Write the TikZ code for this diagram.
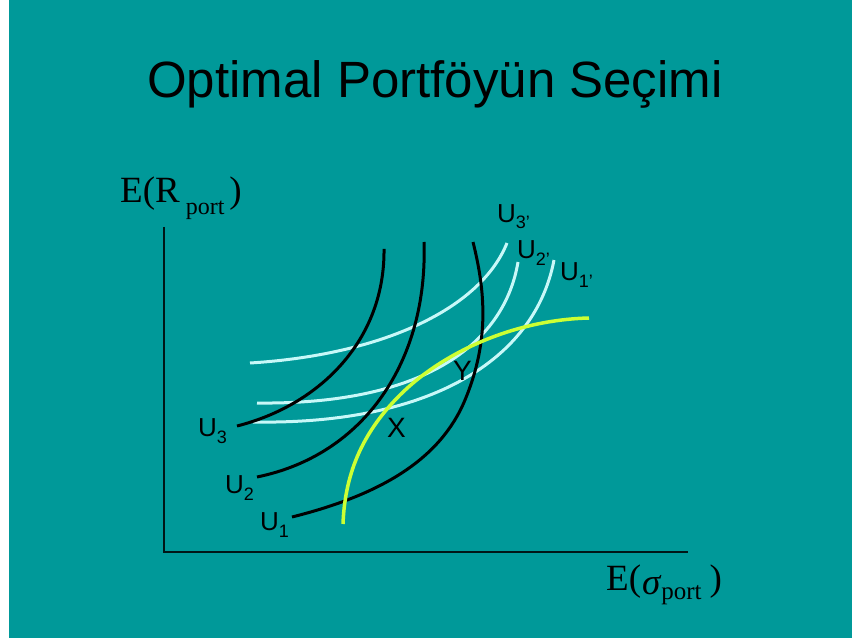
\documentclass[tikz,border=0pt]{standalone}
\usepackage{fontspec}
\setmainfont{Liberation Sans}
\newfontfamily\serifface{Liberation Serif}
\usetikzlibrary{positioning}
\definecolor{slidebg}{HTML}{009999}
\definecolor{paleline}{HTML}{C8F8F8}
\definecolor{frontcol}{HTML}{CCFF33}
\newcommand{\lowsub}[2][6pt]{\raisebox{-#1}{\fontsize{18}{18}\selectfont #2}}

\begin{document}
\begin{tikzpicture}[
    x=1pt, y=-1pt,
    axisline/.style={draw=black!85!slidebg, line width=2pt},
    ucurve/.style={draw=black, line width=3pt},
    vcurve/.style={draw=paleline, line width=3pt},
    front/.style={draw=frontcol, line width=3.5pt},
    ulab/.style={anchor=base west, inner sep=0pt, font=\fontsize{26}{26}\selectfont},
    ptlab/.style={anchor=base west, inner sep=0pt, font=\fontsize{28}{28}\selectfont},
    axlab/.style={anchor=base west, inner sep=0pt, font=\serifface\fontsize{37}{37}\selectfont}
]
    \useasboundingbox (0,0) rectangle (852,639);
    \fill[slidebg] (9,0) rectangle (852,638);

    \node[anchor=base, inner sep=0pt, font=\fontsize{51}{51}\selectfont] (title) at (435,98) {Optimal Portföyün Seçimi};

    % axes
    \coordinate (ytop) at (164,227);
    \coordinate (origin) at (164,552);
    \coordinate (xend) at (688,552);
    \draw[axisline] (ytop) -- (origin) -- (xend);
    \node[axlab] (ylab) at (120,203) {E(R\hspace{6pt}\raisebox{-12pt}{\fontsize{24}{24}\selectfont port}\hspace{5pt})};
    \node[axlab] (xlab) at (606,590) {E(\hspace{1pt}\raisebox{-4pt}{\itshape σ}\hspace{1pt}\raisebox{-9pt}{\fontsize{25}{25}\selectfont port}\hspace{8pt})};

    % pale curves
    \draw[vcurve] (250,363) .. controls (380,355) and (480,310) .. (507,243);
    \draw[vcurve] (257,403) .. controls (430,405) and (505,340) .. (518,262);
    \draw[vcurve] (253,422) .. controls (430,425) and (535,360) .. (554,260);

    % black curves
    \draw[ucurve] (237,426) .. controls (320,405) and (385,340) .. (384,249);
    \draw[ucurve] (257,477) .. controls (365,455) and (428,360) .. (424,242);
    \draw[ucurve] (292,517) .. controls (380,495) and (440,460) .. (465,400)
                            .. controls (490,340) and (485,290) .. (473,242);

    % frontier
    \draw[front] (343,524) .. controls (345,470) and (365,430) .. (400,395)
                           .. controls (440,355) and (510,320) .. (589,318);

    \node[ulab] (u3) at (198,436) {U\lowsub[7pt]{3}};
    \node[ulab] (u2) at (225,493) {U\lowsub[7pt]{2}};
    \node[ulab] (u1) at (260,530) {U\lowsub[7pt]{1}};
    \node[ulab] (u3p) at (497,223) {U\lowsub[6pt]{3’}};
    \node[ulab] (u2p) at (517,259) {U\lowsub[6pt]{2’}};
    \node[ulab] (u1p) at (560,281) {U\lowsub[6pt]{1’}};

    \node[ptlab] (ptx) at (387,437) {X};
    \node[ptlab] (pty) at (453,380) {Y};
\end{tikzpicture}
\end{document}
